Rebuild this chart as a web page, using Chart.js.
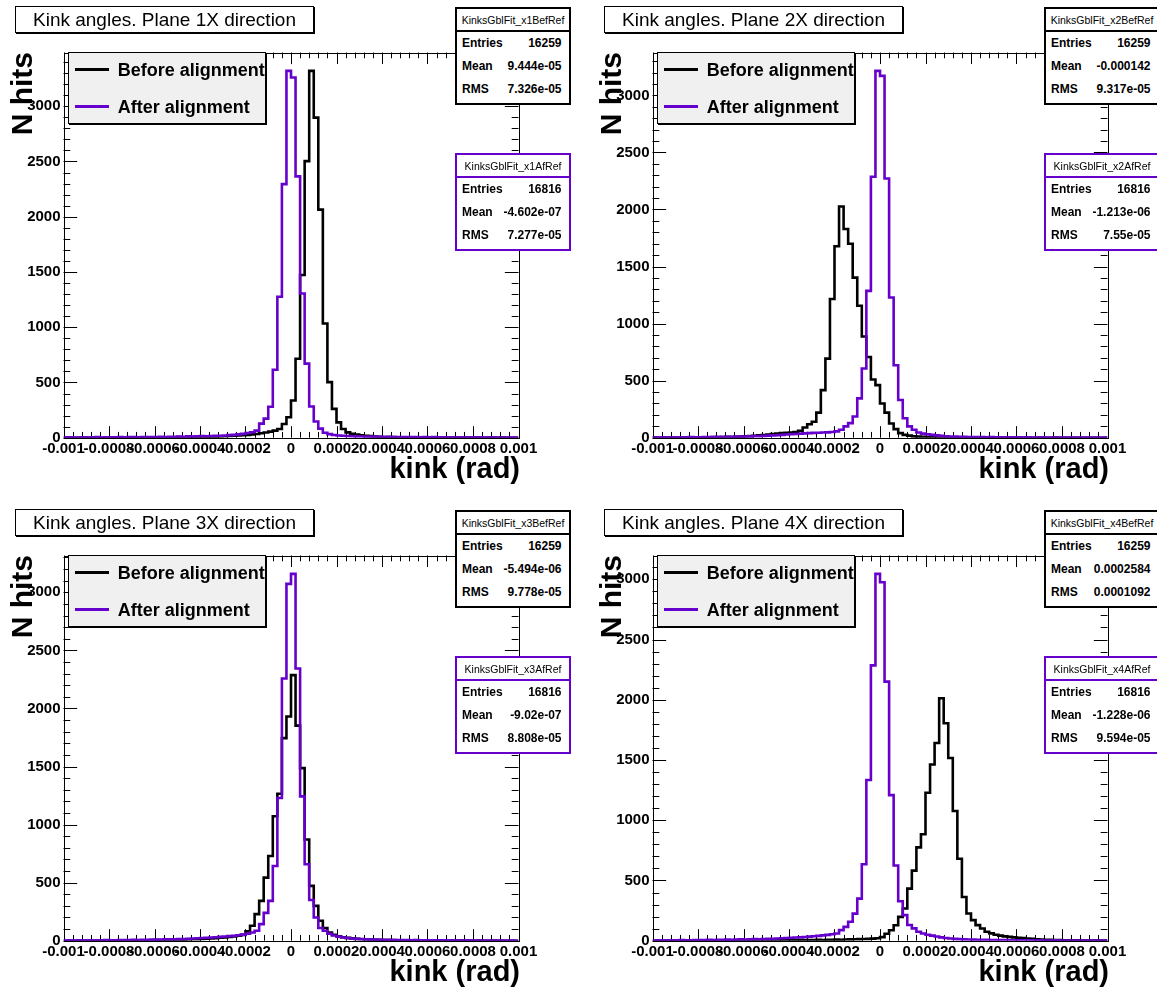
<!DOCTYPE html>
<html>
<head>
<meta charset="utf-8">
<script src="https://cdn.jsdelivr.net/npm/chart.js@4.4.1/dist/chart.umd.min.js"></script>
<style>
body { margin: 0; width: 1157px; height: 988px; overflow: hidden; background: #fff; font-family: 'Liberation Sans', Arial, sans-serif; color: #000; }
.panel { position: absolute; width: 589px; height: 503px; }
.panel canvas { position: absolute; left: 0; top: 0; }
.title { position: absolute; left: 15px; top: 6px; width: 299px; height: 27px; box-sizing: border-box; border: 1px solid #000; box-shadow: 1px 1px 0 #000; background: #fff; font-size: 19px; line-height: 25px; text-align: center; white-space: nowrap; }
.legend { position: absolute; left: 67.7px; top: 52.3px; width: 198px; height: 72px; box-sizing: border-box; border: 1px solid #000; box-shadow: 1px 1px 0 #000; background: #f0f0f0; }
.legend .line { position: absolute; left: 6px; width: 34px; height: 3px; }
.legend .txt { position: absolute; left: 49px; font-weight: bold; font-size: 18px; line-height: 20px; white-space: nowrap; }
.stats { position: absolute; left: 455px; width: 116px; height: 98.5px; box-sizing: border-box; border: 2.5px solid #000; background: #fff; }
.stats .hdr { height: 21.75px; border-bottom: 2.5px solid; border-color: inherit; font-size: 10.5px; line-height: 22px; text-align: center; white-space: nowrap; overflow: hidden; }
.stats .row { display: flex; justify-content: space-between; height: 23px; line-height: 23px; padding: 0 7.5px 0 5px; font-weight: bold; font-size: 12px; }
.ytitle { position: absolute; left: 6.5px; top: 172px; width: 120px; height: 30px; line-height: 30px; text-align: right; font-weight: bold; font-size: 30px; transform-origin: 0 0; transform: rotate(-90deg); white-space: nowrap; }
.xtitle { position: absolute; left: 320px; top: 453.5px; width: 200px; line-height: 29px; text-align: right; font-weight: bold; font-size: 29px; white-space: nowrap; }
</style>
</head>
<body>
<script>
// binning of the kink histograms
const xMin = -0.001, xMax = 0.001, nBins = 100;
const xTickValues = [-0.001, -0.0008, -0.0006, -0.0004, -0.0002, 0, 0.0002, 0.0004, 0.0006, 0.0008, 0.001];
const xTickLabels = ['-0.001', '-0.0008', '-0.0006', '-0.0004', '-0.0002', '0', '0.0002', '0.0004', '0.0006', '0.0008', '0.001'];
const yTickValues = [0, 500, 1000, 1500, 2000, 2500, 3000];

const planes = ['1', '2', '3', '4'];

// bin contents, 100 bins each
const beforeP1 = [
  0,1,0,0,1,0,1,1,0,1,
  1,0,1,2,1,1,2,1,2,3,
  2,3,3,4,3,5,4,6,5,7,
  8,7,9,10,12,13,15,17,20,23,
  26,30,34,40,47,55,64,79,124,185,
  336,715,1473,2503,3320,2897,2064,1033,503,261,
  139,79,48,35,28,22,18,14,11,9,
  7,6,5,4,4,3,3,2,3,2,
  2,1,2,1,1,1,0,1,1,0,
  1,0,0,1,0,0,1,0,0,0];
const afterP1 = [
  2,3,1,2,4,2,3,5,2,3,
  4,3,5,4,6,5,3,6,5,7,
  6,8,7,9,8,10,9,12,11,13,
  14,13,16,18,17,20,23,26,30,36,
  42,50,64,127,173,280,615,1275,2295,3320,
  3260,2365,1305,670,283,147,82,45,32,25,
  20,17,15,13,12,11,9,10,8,9,
  7,8,6,7,6,5,6,5,4,5,
  4,5,3,4,4,3,4,2,3,3,
  2,3,2,2,3,1,2,2,1,2];
const beforeP2 = [
  1,0,1,1,2,1,2,2,3,2,
  3,4,3,5,4,6,7,6,8,9,
  12,14,17,20,24,28,32,36,40,44,
  46,50,60,90,118,140,220,417,693,1215,
  1678,2026,1829,1700,1403,1157,887,707,510,461,
  300,220,125,75,40,25,18,12,9,7,
  6,5,4,3,3,2,2,2,1,1,
  1,1,1,0,1,0,0,1,0,0,
  0,0,1,0,0,0,0,0,1,0,
  0,0,0,0,0,0,0,0,0,0];
const afterP2 = [
  2,1,3,2,2,4,3,3,5,4,
  4,5,6,5,7,6,8,8,10,9,
  11,12,14,13,16,18,20,22,25,28,
  30,33,35,38,40,42,44,45,47,50,
  55,70,99,128,186,345,606,1287,2287,3215,
  3171,2272,1229,635,330,171,99,70,45,36,
  30,25,20,16,13,11,9,8,7,6,
  6,5,5,4,5,4,3,4,3,3,
  3,2,3,2,2,3,2,1,2,2,
  1,2,1,1,2,1,1,1,0,1];
const beforeP3 = [
  0,1,0,1,1,0,1,1,2,1,
  2,1,2,2,3,2,3,4,3,4,
  5,4,6,6,7,8,9,10,12,13,
  15,17,19,22,25,28,32,37,43,50,
  80,129,229,343,543,729,1072,1265,1744,1930,
  2287,1852,1486,872,472,300,172,110,70,50,
  38,30,24,20,16,13,11,9,8,7,
  6,5,5,4,4,3,3,3,2,2,
  2,2,1,2,1,1,1,1,0,1,
  0,1,0,0,1,0,0,0,0,0];
const afterP3 = [
  2,3,1,4,2,3,4,2,3,5,
  4,4,6,5,5,7,6,8,7,9,
  9,10,12,11,13,15,14,17,19,21,
  23,25,27,30,33,36,39,43,47,52,
  60,70,86,143,240,343,643,1229,2258,3073,
  3159,2344,1243,658,350,200,110,86,60,45,
  35,28,23,19,16,14,12,10,9,8,
  8,7,6,6,5,5,4,5,4,4,
  3,4,3,3,2,3,2,2,3,2,
  2,1,2,1,1,2,1,1,1,0];
const beforeP4 = [
  0,0,1,0,0,1,0,0,1,0,
  1,0,1,1,0,1,1,2,1,1,
  2,1,2,2,3,2,3,3,4,3,
  4,5,4,5,6,5,7,6,8,7,
  9,8,10,11,12,13,14,15,17,20,
  30,58,87,128,198,267,432,582,775,884,
  1228,1462,1641,2012,1805,1517,1077,680,363,226,
  171,129,101,74,61,50,42,36,32,28,
  25,22,18,15,12,10,8,7,6,5,
  4,4,3,3,2,2,2,1,1,1];
const afterP4 = [
  2,3,2,4,3,3,5,4,4,6,
  5,6,7,6,8,7,9,8,10,11,
  10,12,13,12,14,16,15,18,20,22,
  24,26,28,31,34,37,40,44,48,53,
  60,88,115,157,225,349,635,1334,2285,3045,
  2975,2150,1208,624,328,212,130,102,74,60,
  50,42,35,28,22,18,15,13,11,10,
  9,8,7,7,6,5,6,5,4,4,
  4,3,3,4,2,3,2,2,3,2,
  1,2,2,1,1,2,1,1,0,1];

const beforeData = [beforeP1, beforeP2, beforeP3, beforeP4];
const afterData = [afterP1, afterP2, afterP3, afterP4];

// stat box contents
const entriesBefore = ['16259', '16259', '16259', '16259'];
const meanBefore = ['9.444e-05', '-0.000142', '-5.494e-06', '0.0002584'];
const rmsBefore = ['7.326e-05', '9.317e-05', '9.778e-05', '0.0001092'];
const entriesAfter = ['16816', '16816', '16816', '16816'];
const meanAfter = ['-4.602e-07', '-1.213e-06', '-9.02e-07', '-1.228e-06'];
const rmsAfter = ['7.277e-05', '7.55e-05', '8.808e-05', '9.594e-05'];

const purple = '#6600cc';
const tickFont = { family: "'Liberation Sans', Arial, sans-serif", weight: 'bold', size: 15 };

const edges = [];
for (let i = 0; i <= nBins; i++) edges.push(xMin + i * (xMax - xMin) / nBins);

function toPoints(values) {
    const pts = values.map((v, i) => ({ x: edges[i], y: v }));
    pts.push({ x: xMax, y: values[nBins - 1] });
    return pts;
}

// ROOT style frame with ticks pointing inwards on all four sides
const frameTicks = {
    id: 'frameTicks',
    beforeDatasetsDraw(chart) {
        const { ctx, chartArea: a, scales } = chart;
        const xs = scales.x, ys = scales.y;
        ctx.save();
        ctx.strokeStyle = '#000';
        ctx.lineWidth = 1;
        ctx.strokeRect(Math.round(a.left) + 0.5, Math.round(a.top) + 0.5, Math.round(a.width), Math.round(a.height));
        ctx.beginPath();
        const xLen = a.height * 0.03, yLen = a.width * 0.03;
        const xStep = (xTickValues[1] - xTickValues[0]) / 5;
        const nx = Math.round((xMax - xMin) / xStep);
        for (let k = 0; k <= nx; k++) {
            const px = Math.round(xs.getPixelForValue(xMin + k * xStep)) + 0.5;
            const len = k % 5 === 0 ? xLen : xLen / 2;
            ctx.moveTo(px, a.bottom); ctx.lineTo(px, a.bottom - len);
            ctx.moveTo(px, a.top); ctx.lineTo(px, a.top + len);
        }
        const yStep = (yTickValues[1] - yTickValues[0]) / 5;
        for (let k = 0; k * yStep <= ys.max; k++) {
            const py = Math.round(ys.getPixelForValue(k * yStep)) + 0.5;
            const len = k % 5 === 0 ? yLen : yLen / 2;
            ctx.moveTo(a.left, py); ctx.lineTo(a.left + len, py);
            ctx.moveTo(a.right, py); ctx.lineTo(a.right - len, py);
        }
        ctx.stroke();
        ctx.restore();
    }
};

function statBox(top, color, name, entries, mean, rms) {
    const box = document.createElement('div');
    box.className = 'stats';
    box.style.top = top + 'px';
    box.style.borderColor = color;
    box.innerHTML = '<div class="hdr">' + name + '</div>' +
        '<div class="row"><span>Entries</span><span>' + entries + '</span></div>' +
        '<div class="row"><span>Mean</span><span>' + mean + '</span></div>' +
        '<div class="row"><span>RMS</span><span>' + rms + '</span></div>';
    return box;
}

function makePanel(p) {
    const panel = document.createElement('div');
    panel.className = 'panel';
    panel.style.left = (p % 2) * 589 + 'px';
    panel.style.top = Math.floor(p / 2) * 503 + 'px';
    document.body.appendChild(panel);

    const canvas = document.createElement('canvas');
    canvas.width = 589;
    canvas.height = 503;
    panel.appendChild(canvas);

    const before = beforeData[p], after = afterData[p];
    const yMax = 1.05 * Math.max(Math.max(...before), Math.max(...after));

    new Chart(canvas.getContext('2d'), {
        type: 'line',
        data: {
            datasets: [
                { label: 'After alignment', data: toPoints(after), borderColor: purple, borderWidth: 2.6, stepped: 'before', pointRadius: 0, fill: false, order: 0 },
                { label: 'Before alignment', data: toPoints(before), borderColor: '#000', borderWidth: 2.6, stepped: 'before', pointRadius: 0, fill: false, order: 1 }
            ]
        },
        options: {
            responsive: false,
            animation: false,
            layout: { padding: { left: 0, top: 52.5, right: 70.5, bottom: 0 } },
            plugins: { legend: { display: false }, tooltip: { enabled: false } },
            scales: {
                x: {
                    type: 'linear', min: xMin, max: xMax,
                    afterBuildTicks: s => { s.ticks = xTickValues.map(v => ({ value: v })); },
                    afterFit: s => { s.height = 65.3; },
                    grid: { display: false, drawTicks: false },
                    border: { display: false },
                    ticks: { autoSkip: false, maxRotation: 0, minRotation: 0, padding: 2, color: '#000', font: tickFont,
                        callback: (v, i) => xTickLabels[i] }
                },
                y: {
                    type: 'linear', min: 0, max: yMax,
                    afterBuildTicks: s => { s.ticks = yTickValues.map(v => ({ value: v })); },
                    afterFit: s => { s.width = 63.5; },
                    grid: { display: false, drawTicks: false },
                    border: { display: false },
                    ticks: { padding: 3, color: '#000', font: tickFont, callback: v => String(v) }
                }
            }
        },
        plugins: [frameTicks]
    });

    const title = document.createElement('div');
    title.className = 'title';
    title.textContent = 'Kink angles. Plane ' + planes[p] + 'X direction';
    panel.appendChild(title);

    const legend = document.createElement('div');
    legend.className = 'legend';
    legend.innerHTML =
        '<div class="line" style="top:15px;background:#000"></div><div class="txt" style="top:6.5px">Before alignment</div>' +
        '<div class="line" style="top:52px;background:' + purple + '"></div><div class="txt" style="top:43.5px">After alignment</div>';
    panel.appendChild(legend);

    panel.appendChild(statBox(6.5, '#000', 'KinksGblFit_x' + planes[p] + 'BefRef', entriesBefore[p], meanBefore[p], rmsBefore[p]));
    panel.appendChild(statBox(152.5, purple, 'KinksGblFit_x' + planes[p] + 'AfRef', entriesAfter[p], meanAfter[p], rmsAfter[p]));

    const yt = document.createElement('div');
    yt.className = 'ytitle';
    yt.textContent = 'N hits';
    panel.appendChild(yt);

    const xt = document.createElement('div');
    xt.className = 'xtitle';
    xt.textContent = 'kink (rad)';
    panel.appendChild(xt);
}

for (let p = 0; p < 4; p++) makePanel(p);
</script>
</body>
</html>
